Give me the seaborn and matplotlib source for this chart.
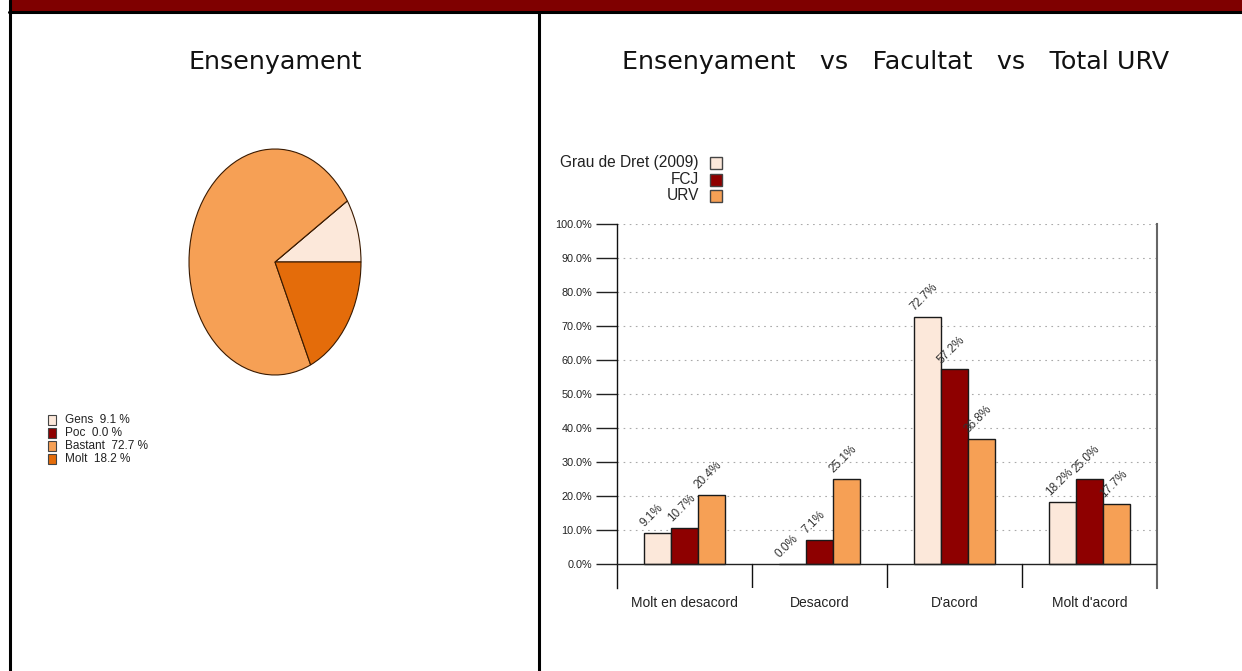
import matplotlib
matplotlib.use("Agg")
import matplotlib.pyplot as plt
from matplotlib.patches import Rectangle
from matplotlib import font_manager
import seaborn as sns
import pandas as pd
import numpy as np

# ---------------- data ----------------
pie_labels = ["Gens", "Poc", "Bastant", "Molt"]
pie_values = [9.1, 0.0, 72.7, 18.2]
pie_colors = ["#FCE8DA", "#8E0000", "#F6A055", "#E46C0A"]

categories = ["Molt en desacord", "Desacord", "D'acord", "Molt d'acord"]
series_names = ["Grau de Dret (2009)", "FCJ", "URV"]
grau_vals = [9.1, 0.0, 72.7, 18.2]
fcj_vals = [10.7, 7.1, 57.2, 25.0]
urv_vals = [20.4, 25.1, 36.8, 17.7]
series_colors = ["#FCE8DA", "#8E0000", "#F6A055"]
yticks = [0, 10, 20, 30, 40, 50, 60, 70, 80, 90, 100]

title_left = "Ensenyament"
title_right = "Ensenyament   vs   Facultat   vs   Total URV"

# ---------------- fonts ----------------
sns.set_style("white")
avail = {f.name for f in font_manager.fontManager.ttflist}
narrow = "Liberation Sans Narrow" if "Liberation Sans Narrow" in avail else "Liberation Sans"
plt.rcParams["font.family"] = ["DejaVu Sans"]

W, H = 1242, 671
fig = plt.figure(figsize=(W / 100, H / 100), dpi=100)
fig.patch.set_facecolor("white")


def fx(px):
    return px / W


def fy(py):
    return 1 - py / H


# frame / banner
fig.add_artist(Rectangle((fx(10), fy(11)), 1, 11 / H, transform=fig.transFigure,
                         facecolor="#7F0000", edgecolor="none"))
fig.add_artist(plt.Line2D([fx(9), 1], [fy(12), fy(12)], transform=fig.transFigure,
                          color="black", lw=2.2))
fig.add_artist(plt.Line2D([fx(10), fx(10)], [0, 1], transform=fig.transFigure,
                          color="black", lw=2.2))
fig.add_artist(plt.Line2D([fx(539), fx(539)], [0, fy(12)], transform=fig.transFigure,
                          color="black", lw=2.2))

# titles
fig.text(fx(275), fy(62), title_left, ha="center", va="center", fontsize=18.3,
         family="DejaVu Sans", color="#111111")
fig.text(fx(896), fy(62), title_right, ha="center", va="center", fontsize=18.3,
         family="DejaVu Sans", color="#111111")

# ---------------- pie ----------------
axp = fig.add_axes([fx(189), fy(375), fx(172), 226 / H])
axp.pie(pie_values, colors=pie_colors, startangle=0, counterclock=True,
        wedgeprops=dict(edgecolor="#3a1a00", linewidth=0.8))
axp.set_aspect("auto")
axp.set_xlim(-1.0, 1.0)
axp.set_ylim(-1.0, 1.0)
axp.axis("off")

# pie legend
for i, (lab, val, col) in enumerate(zip(pie_labels, pie_values, pie_colors)):
    y = 420 + i * 13
    fig.add_artist(Rectangle((fx(48), fy(y + 5)), 8 / W, 10 / H, transform=fig.transFigure,
                             facecolor=col, edgecolor="#444444", lw=0.8))
    fig.text(fx(65), fy(y), f"{lab}  {val:.1f} %", ha="left", va="center",
             fontsize=8.5, family=narrow, color="#222222")

# ---------------- bars ----------------
ymin = -7.1
axb = fig.add_axes([fx(617), fy(588), fx(1157 - 617), (588 - 224) / H])
df = pd.DataFrame({
    "cat": categories * 3,
    "serie": [series_names[0]] * 4 + [series_names[1]] * 4 + [series_names[2]] * 4,
    "val": grau_vals + fcj_vals + urv_vals,
})
sns.barplot(data=df, x="cat", y="val", hue="serie", hue_order=series_names,
            order=categories, palette=series_colors, width=0.6, ax=axb,
            edgecolor="#1a1a1a", linewidth=1.0, saturation=1, legend=False)
axb.set_xlim(-0.5, 3.5)
axb.set_ylim(ymin, 100)
axb.set_xlabel("")
axb.set_ylabel("")
for y in yticks[1:]:
    axb.axhline(y, color="#aaaaaa", lw=0.8, ls=(0, (1.5, 4)), zorder=0)
axb.axhline(0, color="#222222", lw=1.0, zorder=3)
for xs in [0.5, 1.5, 2.5]:
    axb.plot([xs, xs], [ymin, 0], color="#111111", lw=1.0, zorder=3)

axb.spines["top"].set_visible(False)
axb.spines["bottom"].set_visible(False)
axb.spines["left"].set_color("#111111")
axb.spines["left"].set_linewidth(1.0)
axb.spines["right"].set_color("#666666")
axb.spines["right"].set_linewidth(1.5)
axb.set_yticks(yticks)
axb.set_yticklabels([f"{v:.1f}%" for v in yticks], family=narrow, fontsize=7.8,
                    color="#222222")
axb.tick_params(axis="y", direction="out", length=15, width=1.0, color="#222222", pad=3,
                left=True)
axb.set_xticks(range(len(categories)))
axb.set_xticklabels(categories, family=narrow, fontsize=10, color="#222222")
axb.tick_params(axis="x", length=0, pad=6)

# value labels
for bar_container, vals in zip(axb.containers, [grau_vals, fcj_vals, urv_vals]):
    for rect, v in zip(bar_container, vals):
        axb.text(rect.get_x() + 0.02, v + 1.0, f"{v:.1f}%", rotation=45,
                 rotation_mode="anchor", ha="left", va="bottom",
                 family=narrow, fontsize=8.5, color="#333333")

# bar legend
for i, (name, col) in enumerate(zip(series_names, series_colors)):
    y = 163 + i * 16.5
    fig.text(fx(699), fy(y), name, ha="right", va="center", family=narrow,
             fontsize=11.2, color="#222222")
    fig.add_artist(Rectangle((fx(710), fy(y + 6)), 12 / W, 12 / H, transform=fig.transFigure,
                             facecolor=col, edgecolor="#444444", lw=1.0))

fig.savefig("out.png", dpi=100)
